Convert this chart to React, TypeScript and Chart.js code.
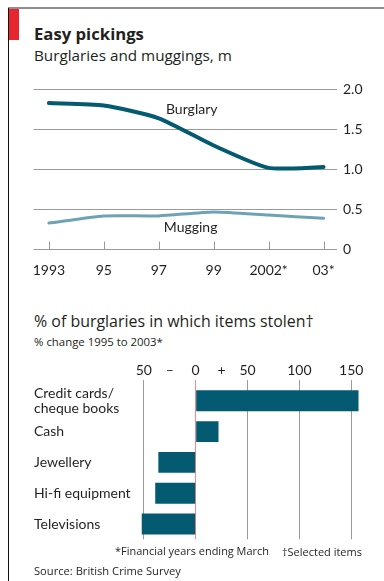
import React, { useEffect, useRef } from "react";
import { Chart, registerables } from "chart.js";

Chart.register(...registerables);

// ---- Data: line chart ----
const years = ["1993", "95", "97", "99", "2002*", "03*"];
const burglary = [1.83, 1.8, 1.64, 1.3, 1.02, 1.03];
const mugging = [0.33, 0.42, 0.42, 0.47, 0.43, 0.39];
const yTickValues = [0, 0.5, 1, 1.5, 2];
const yTickLabels = ["0", "0.5", "1.0", "1.5", "2.0"];

// ---- Data: bar chart ----
const items: (string | string[])[] = [
  ["Credit cards/", "cheque books"],
  "Cash",
  "Jewellery",
  "Hi-fi equipment",
  "Televisions",
];
const change = [157, 22, -36, -39, -52];
const xTickValues = [-50, -25, 0, 25, 50, 100, 150];
const xTickLabels = ["50", "–", "0", "+", "50", "100", "150"];

const FONT = "Lato";
const HFONT = '"Open Sans"';
const TEXT = "#231f20";
const DARK = "#045a70";
const LIGHT = "#6ea3b6";
const GRID = "#9a9a9a";

let measureCtx: CanvasRenderingContext2D | null = null;
function fitSize(text: string, target: number, weight: number, fallback: number) {
  try {
    if (!measureCtx) measureCtx = document.createElement("canvas").getContext("2d");
    if (!measureCtx) return fallback;
    measureCtx.font = `${weight} 100px ${HFONT}`;
    const w = measureCtx.measureText(text).width;
    if (!w) return fallback;
    return (100 * target) / w;
  } catch {
    return fallback;
  }
}

function Label(props: { text: string; x: number; baseline: number; width: number; weight?: number; fallback: number }) {
  const weight = props.weight ?? 400;
  const size = fitSize(props.text, props.width, weight, props.fallback);
  return (
    <div
      style={{
        position: "absolute",
        left: props.x,
        top: props.baseline - 0.888 * size,
        fontFamily: HFONT,
        fontSize: size,
        fontWeight: weight,
        lineHeight: 1,
        color: TEXT,
        whiteSpace: "nowrap",
      }}
    >
      {props.text}
    </div>
  );
}

const zeroPad = (s: any) => {
  s.paddingTop = 0;
  s.paddingBottom = 0;
  s.paddingLeft = 0;
  s.paddingRight = 0;
};

const lineExtras = {
  id: "lineExtras",
  beforeDatasetsDraw(chart: any) {
    const { ctx, scales } = chart;
    const x = scales.x;
    const y = scales.y;
    const y0 = y.getPixelForValue(0);
    ctx.save();
    ctx.strokeStyle = GRID;
    ctx.lineWidth = 1;
    years.forEach((_, i) => {
      const px = Math.round(x.getPixelForValue(i)) + 0.5;
      ctx.beginPath();
      ctx.moveTo(px, y0);
      ctx.lineTo(px, y0 - 8);
      ctx.stroke();
    });
    ctx.restore();
  },
  afterDatasetsDraw(chart: any) {
    const { ctx, scales } = chart;
    const x = scales.x;
    const y = scales.y;
    ctx.save();
    ctx.fillStyle = TEXT;
    ctx.font = `14px ${FONT}`;
    ctx.textAlign = "center";
    ctx.textBaseline = "middle";
    ctx.fillText("Burglary", x.getPixelForValue(2.6), y.getPixelForValue(1.75));
    ctx.fillText("Mugging", x.getPixelForValue(2.58), y.getPixelForValue(0.27));
    ctx.restore();
  },
};

function LineChart() {
  const ref = useRef<HTMLCanvasElement>(null);
  useEffect(() => {
    const chart = new Chart(ref.current!, {
      type: "line",
      data: {
        datasets: [
          {
            label: "Burglary",
            data: burglary.map((v, i) => ({ x: i, y: v })),
            borderColor: DARK,
            borderWidth: 4,
            pointRadius: 0,
            tension: 0.2,
            borderCapStyle: "round",
          },
          {
            label: "Mugging",
            data: mugging.map((v, i) => ({ x: i, y: v })),
            borderColor: LIGHT,
            borderWidth: 3,
            pointRadius: 0,
            tension: 0.2,
            borderCapStyle: "round",
          },
        ],
      },
      options: {
        responsive: false,
        animation: false,
        layout: { autoPadding: false, padding: { left: 33.5, top: 9.5, right: 0, bottom: 0 } },
        plugins: { legend: { display: false }, tooltip: { enabled: false } },
        scales: {
          x: {
            type: "linear",
            min: -0.28,
            max: 5.245,
            afterBuildTicks: (s: any) => {
              s.ticks = years.map((_, i) => ({ value: i }));
            },
            afterFit: (s: any) => {
              s.height = 30.5;
              zeroPad(s);
            },
            grid: { display: false },
            border: { display: false },
            ticks: {
              autoSkip: false,
              maxRotation: 0,
              padding: 5,
              color: TEXT,
              font: { family: FONT, size: 14 },
              callback: (_v: any, i: number) => years[i],
            },
          },
          y: {
            position: "right",
            min: 0,
            max: 2,
            afterBuildTicks: (s: any) => {
              s.ticks = yTickValues.map((v) => ({ value: v }));
            },
            afterFit: (s: any) => {
              s.width = 47;
              zeroPad(s);
            },
            grid: { color: GRID, lineWidth: 1, drawTicks: false },
            border: { display: false },
            ticks: {
              padding: 6,
              color: TEXT,
              font: { family: FONT, size: 14 },
              callback: (_v: any, i: number) => yTickLabels[i],
            },
          },
        },
      },
      plugins: [lineExtras],
    } as any);
    return () => chart.destroy();
  }, []);
  return (
    <canvas
      ref={ref}
      width={384}
      height={200}
      style={{ position: "absolute", left: 0, top: 80, width: 384, height: 200 }}
    />
  );
}

function BarChart() {
  const ref = useRef<HTMLCanvasElement>(null);
  useEffect(() => {
    const chart = new Chart(ref.current!, {
      type: "bar",
      data: {
        labels: items,
        datasets: [
          {
            data: change,
            backgroundColor: DARK,
            borderWidth: 0,
            categoryPercentage: 1,
            barPercentage: 0.68,
          },
        ],
      },
      options: {
        indexAxis: "y",
        responsive: false,
        animation: false,
        layout: { autoPadding: false, padding: { left: 34, top: 0, right: 12, bottom: 5.6 } },
        plugins: { legend: { display: false }, tooltip: { enabled: false } },
        scales: {
          x: {
            type: "linear",
            position: "top",
            min: -58.5,
            max: 170,
            afterBuildTicks: (s: any) => {
              s.ticks = xTickValues.map((v) => ({ value: v }));
            },
            afterFit: (s: any) => {
              s.height = 30.4;
              zeroPad(s);
            },
            grid: {
              drawTicks: true,
              tickLength: 5.4,
              lineWidth: 1,
              color: (c: any) => {
                const v = c.tick ? c.tick.value : null;
                if (v === 0) return "#f08a8a";
                if (v === -25 || v === 25) return "rgba(0,0,0,0)";
                return GRID;
              },
            },
            border: { display: false },
            ticks: {
              autoSkip: false,
              maxRotation: 0,
              padding: 1,
              color: TEXT,
              font: { family: FONT, size: 14 },
              callback: (_v: any, i: number) => xTickLabels[i],
            },
          },
          y: {
            position: "left",
            afterFit: (s: any) => {
              s.width = 101;
              zeroPad(s);
            },
            grid: { display: false },
            border: { display: false },
            ticks: {
              autoSkip: false,
              crossAlign: "far",
              color: TEXT,
              font: { family: FONT, size: 14, lineHeight: 1.07 },
            },
          },
        },
      },
    } as any);
    return () => chart.destroy();
  }, []);
  return (
    <canvas
      ref={ref}
      width={384}
      height={190}
      style={{ position: "absolute", left: 0, top: 355, width: 384, height: 190 }}
    />
  );
}

export default function App() {
  return (
    <div
      style={{
        position: "absolute",
        left: 0,
        top: 0,
        width: 384,
        height: 581,
        background: "#fff",
        overflow: "hidden",
      }}
    >
      <div style={{ position: "absolute", left: 8, top: 7, width: 376, height: 2, background: "#8f8f8f" }} />
      <div style={{ position: "absolute", left: 8, top: 8, width: 1, height: 573, background: "#111" }} />
      <div style={{ position: "absolute", left: 9, top: 9, width: 10, height: 31, background: "#e8262f" }} />
      <Label text="Easy pickings" x={34} baseline={40.5} width={110} weight={700} fallback={18} />
      <Label text="Burglaries and muggings, m" x={34} baseline={61.5} width={198} fallback={14} />
      <LineChart />
      <Label text="% of burglaries in which items stolen†" x={34} baseline={328.5} width={280} fallback={13} />
      <Label text="% change 1995 to 2003*" x={34} baseline={346.5} width={129} fallback={10.5} />
      <BarChart />
      <Label text="*Financial years ending March" x={115} baseline={556} width={154} fallback={12} />
      <Label text="†Selected items" x={282} baseline={556} width={80} fallback={12} />
      <Label text="Source: British Crime Survey" x={34} baseline={574.5} width={147} fallback={12} />
    </div>
  );
}
